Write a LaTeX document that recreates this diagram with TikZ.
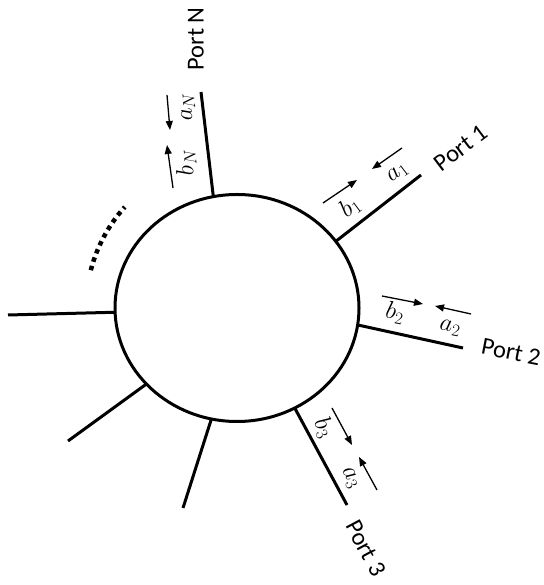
\documentclass[tikz,border=0pt]{standalone}
\usepackage{fontspec}
\setmainfont{Carlito}
\usetikzlibrary{shapes.geometric,arrows.meta}
\begin{document}
\begin{tikzpicture}[x=1bp,y=1bp,
  port/.style={line width=3bp},
  arr/.style={line width=1.3bp,-{Triangle[length=9bp,width=7bp]}},
  plabel/.style={font=\fontsize{24.5}{28}\selectfont,inner sep=0pt},
  mlabel/.style={font=\fontsize{23}{27}\selectfont,inner sep=0pt}]
\useasboundingbox (0,0) rectangle (544,585);
\node[draw,ellipse,line width=3bp,minimum width=244bp,minimum height=227bp,inner sep=0pt,outer sep=0pt] (c) at (237,277) {};
% port line ends
\coordinate (eN) at (201,493);
\coordinate (e1) at (421,410);
\coordinate (e2) at (463,237);
\coordinate (e3) at (347,80);
\coordinate (eL) at (8,270);
\coordinate (eLL) at (68,144);
\coordinate (eLo) at (183,77);
\draw[port] (c.102.7) -- (eN);
\draw[port] (c.34.7) -- (e1);
\draw[port] (c.-8.8) -- (e2);
\draw[port] (c.-60.9) -- (e3);
\draw[port] (c.182.3) -- (eL);
\draw[port] (c.220.6) -- (eLL);
\draw[port] (c.257.8) -- (eLo);
% dotted arc
\draw[line width=4.5bp,dash pattern=on 4.5bp off 4.3bp] ([shift={(165.5:151bp)}]c.center) arc[start angle=165.5,end angle=138,radius=151bp];
% port labels
\node[plabel,rotate=90] (pN) at (196,546) {Port N};
\node[plabel,rotate=37] (p1) at (461,437) {Port 1};
\node[plabel,rotate=-11] (p2) at (511,233) {Port 2};
\node[plabel,rotate=-62] (p3) at (366,37) {Port 3};
% wave arrows
\coordinate (aNs) at (167,490); \coordinate (aNe) at (170,455);
\coordinate (bNs) at (173,397); \coordinate (bNe) at (167,440);
\coordinate (a1s) at (402,437); \coordinate (a1e) at (372,416);
\coordinate (b1s) at (323,382); \coordinate (b1e) at (357,405);
\coordinate (a2s) at (471,271); \coordinate (a2e) at (435,279);
\coordinate (b2s) at (382,289); \coordinate (b2e) at (423,281);
\coordinate (a3s) at (377,95); \coordinate (a3e) at (359,128);
\coordinate (b3s) at (332,177); \coordinate (b3e) at (352,140);
\draw[arr] (aNs) -- (aNe);
\draw[arr] (bNs) -- (bNe);
\draw[arr] (a1s) -- (a1e);
\draw[arr] (b1s) -- (b1e);
\draw[arr] (a2s) -- (a2e);
\draw[arr] (b2s) -- (b2e);
\draw[arr] (a3s) -- (a3e);
\draw[arr] (b3s) -- (b3e);
% wave labels
\node[mlabel,rotate=94] (laN) at (188,478) {$a_N$};
\node[mlabel,rotate=94] (lbN) at (186,422) {$b_N$};
\node[mlabel,rotate=37] (la1) at (398,412) {$a_1$};
\node[mlabel,rotate=37] (lb1) at (350,378) {$b_1$};
\node[mlabel,rotate=-11] (la2) at (450,257) {$a_2$};
\node[mlabel,rotate=-11] (lb2) at (395,272) {$b_2$};
\node[mlabel,rotate=-62] (la3) at (350,107) {$a_3$};
\node[mlabel,rotate=-62] (lb3) at (324,157) {$b_3$};
\end{tikzpicture}
\end{document}
